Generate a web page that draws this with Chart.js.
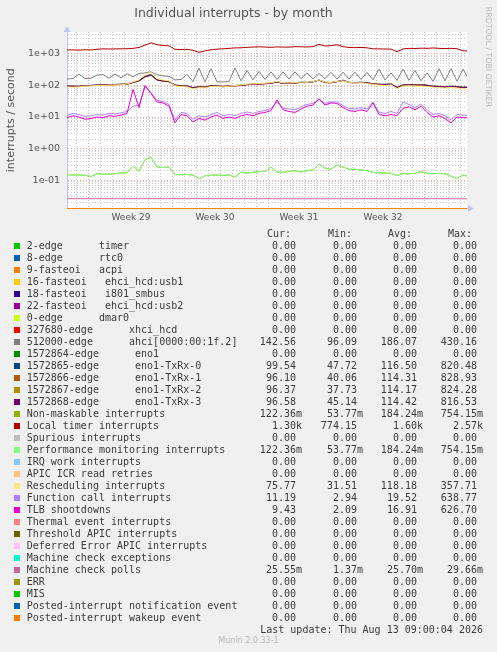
<!DOCTYPE html>
<html>
<head>
<meta charset="utf-8">
<script src="https://cdn.jsdelivr.net/npm/chart.js@4.4.1/dist/chart.umd.min.js"></script>
<style>
html, body { margin: 0; padding: 0; background: #f0f0f0; }
#wrap { position: relative; width: 497px; height: 652px; overflow: hidden; }
#chart { position: absolute; left: 0; top: 0; }
.lg { position: absolute; font-family: 'DejaVu Sans Mono', monospace; font-size: 10px; line-height: 12px; color: #3a3a3a; white-space: pre; }
.sw { position: absolute; width: 6px; height: 6px; }
#munin { position: absolute; left: 0; width: 497px; top: 636px; text-align: center; font-family: 'DejaVu Sans', sans-serif; font-size: 8px; line-height: 10px; color: #bbb; }
</style>
</head>
<body>
<div id="wrap">
  <canvas id="chart" width="497" height="230"></canvas>
  <div id="legend"></div>
  <div id="munin">Munin 2.0.33-1</div>
</div>
<script>
// legend rows, in munin order (later rows are drawn on top)
const seriesNames = [
    '2-edge      timer',
    '8-edge      rtc0',
    '9-fasteoi   acpi',
    '16-fasteoi   ehci_hcd:usb1',
    '18-fasteoi   i801_smbus',
    '22-fasteoi   ehci_hcd:usb2',
    '0-edge      dmar0',
    '327680-edge      xhci_hcd',
    '512000-edge      ahci[0000:00:1f.2]',
    '1572864-edge      eno1',
    '1572865-edge      eno1-TxRx-0',
    '1572866-edge      eno1-TxRx-1',
    '1572867-edge      eno1-TxRx-2',
    '1572868-edge      eno1-TxRx-3',
    'Non-maskable interrupts',
    'Local timer interrupts',
    'Spurious interrupts',
    'Performance monitoring interrupts',
    'IRQ work interrupts',
    'APIC ICR read retries',
    'Rescheduling interrupts',
    'Function call interrupts',
    'TLB shootdowns',
    'Thermal event interrupts',
    'Threshold APIC interrupts',
    'Deferred Error APIC interrupts',
    'Machine check exceptions',
    'Machine check polls',
    'ERR',
    'MIS',
    'Posted-interrupt notification event',
    'Posted-interrupt wakeup event'
];
const seriesColors = [
    '#00cc00', '#0066b3', '#ff8000', '#ffcc00', '#330099', '#990099', '#ccff00', '#ff0000',
    '#808080', '#008f00', '#00487d', '#b35a00', '#b38f00', '#6b006b', '#8fb300', '#b30000',
    '#bebebe', '#80ff80', '#80c9ff', '#ffc080', '#ffe680', '#aa80ff', '#ee00cc', '#ff8080',
    '#666600', '#ffbfff', '#00ffcc', '#cc6699', '#999900', '#00cc00', '#0066b3', '#ff8000'
];
const curValues = [0, 0, 0, 0, 0, 0, 0, 0, 142.56, 0, 99.54, 96.10, 96.37, 96.58, 0.12236, 1300,
    0, 0.12236, 0, 0, 75.77, 11.19, 9.43, 0, 0, 0, 0, 0.02555, 0, 0, 0, 0];
const minValues = [0, 0, 0, 0, 0, 0, 0, 0, 96.09, 0, 47.72, 40.06, 37.73, 45.14, 0.05377, 774.15,
    0, 0.05377, 0, 0, 31.51, 2.94, 2.09, 0, 0, 0, 0, 0.00137, 0, 0, 0, 0];
const avgValues = [0, 0, 0, 0, 0, 0, 0, 0, 186.07, 0, 116.50, 114.31, 114.17, 114.42, 0.18424, 1600,
    0, 0.18424, 0, 0, 118.18, 19.52, 16.91, 0, 0, 0, 0, 0.02570, 0, 0, 0, 0];
const maxValues = [0, 0, 0, 0, 0, 0, 0, 0, 430.16, 0, 820.48, 828.93, 824.28, 816.53, 0.75415, 2570,
    0, 0.75415, 0, 0, 357.71, 638.77, 626.70, 0, 0, 0, 0, 0.02966, 0, 0, 0, 0];

// time axis: days from the start of week 29, one sample every half day
const startDay = -1.83;
const stepDay = 0.5;
const weekTicks = [3.5, 10.5, 17.5, 24.5];
const weekLabels = ['Week 29', 'Week 30', 'Week 31', 'Week 32'];

const localTimer = [
    1340, 1340, 1320, 1350, 1340, 1400, 1450, 1430, 1440, 1450,
    1460, 1500, 1600, 1900, 2250, 1950, 1850, 1800, 1400, 1380,
    1400, 1300, 1120, 1250, 1350, 1420, 1450, 1500, 1550, 1560,
    1620, 1650, 1680, 1650, 1620, 1670, 1650, 1640, 1700, 1680,
    1660, 1700, 2000, 1780, 1830, 1950, 1700, 1600, 1580, 1600,
    1560, 1450, 1440, 1430, 1420, 1180, 1440, 1500, 1480, 1520,
    1500, 1540, 1500, 1480, 1500, 1460, 1250, 1250
];
const ahci = [
    160, 165, 230, 165, 170, 215, 220, 170, 230, 175,
    235, 190, 240, 250, 270, 220, 200, 195, 150, 155,
    225, 132, 350, 130, 340, 130, 130, 135, 360, 140,
    300, 150, 280, 155, 270, 155, 270, 160, 270, 165,
    250, 160, 240, 165, 260, 160, 265, 160, 265, 155,
    260, 150, 330, 150, 250, 145, 330, 145, 300, 140,
    250, 135, 340, 140, 340, 135, 330, 150
];
const txrx0 = [
    97, 95, 95, 100, 101, 104, 105, 107, 108, 110,
    112, 127, 143, 195, 220, 152, 140, 134, 104, 98,
    97, 86, 92, 90, 99, 97, 94, 98, 100, 102,
    108, 111, 113, 116, 119, 133, 118, 120, 122, 127,
    126, 132, 150, 126, 124, 134, 147, 126, 124, 127,
    122, 114, 110, 109, 112, 88, 104, 107, 105, 106,
    102, 96, 94, 92, 95, 93, 88, 90
];
const txrx1 = [
    94, 92, 92, 97, 99, 101, 103, 104, 105, 107,
    109, 123, 138, 186, 210, 148, 136, 130, 100, 95,
    94, 83, 89, 87, 96, 94, 91, 95, 97, 99,
    105, 108, 110, 113, 116, 128, 115, 117, 119, 124,
    123, 129, 146, 123, 121, 131, 143, 123, 121, 124,
    119, 111, 107, 106, 109, 85, 101, 104, 102, 103,
    99, 93, 91, 89, 92, 90, 85, 87
];
const txrx2 = [
    96, 95, 94, 99, 100, 103, 104, 106, 107, 109,
    111, 126, 141, 192, 218, 151, 139, 133, 103, 97,
    96, 85, 91, 89, 98, 96, 93, 97, 99, 101,
    107, 110, 112, 115, 118, 131, 117, 119, 121, 126,
    125, 131, 149, 125, 123, 133, 146, 125, 123, 126,
    121, 113, 109, 108, 111, 87, 103, 106, 104, 105,
    101, 95, 93, 91, 94, 92, 87, 89
];
const txrx3 = [
    95, 94, 93, 98, 100, 102, 104, 105, 106, 108,
    110, 125, 140, 190, 215, 150, 138, 132, 102, 96,
    95, 84, 90, 88, 97, 95, 92, 96, 98, 100,
    106, 109, 111, 114, 117, 130, 116, 118, 120, 125,
    124, 130, 148, 124, 122, 132, 145, 124, 122, 125,
    120, 112, 108, 107, 110, 86, 102, 105, 103, 104,
    100, 94, 92, 90, 93, 91, 86, 88
];
const rescheduling = [
    90, 88, 90, 95, 97, 100, 100, 103, 104, 105,
    112, 130, 150, 230, 260, 165, 150, 140, 98, 92,
    90, 78, 85, 84, 92, 93, 90, 95, 100, 104,
    110, 112, 115, 118, 122, 135, 120, 121, 124, 128,
    126, 132, 150, 128, 125, 135, 140, 126, 120, 122,
    115, 108, 103, 100, 104, 80, 95, 97, 96, 95,
    92, 88, 84, 82, 85, 82, 76, 78
];
const functionCall = [
    11.5, 13, 12, 10.5, 11, 12, 11.5, 13, 12.5, 13.5,
    15, 22, 24, 90, 60, 34, 31, 25, 8, 14,
    13, 8.5, 11, 10, 12, 14, 11, 12, 11, 13,
    14.5, 13, 15, 16, 19, 30, 19, 18, 17, 21,
    25, 27, 36, 27, 30, 30, 23, 19, 18, 20,
    18, 30, 14, 13, 15, 13, 30, 25, 20, 26,
    17, 12, 13, 11, 8, 12, 11.5, 11.2
];
const tlbShootdowns = [
    9.5, 11, 10, 8.5, 9, 10, 9.5, 11, 10.5, 11.5,
    13, 75, 20, 100, 55, 30, 28, 22, 6.5, 12,
    11, 7, 9, 8, 10, 11.5, 9, 10, 9, 11,
    12, 11, 13, 14, 16, 35, 17, 15, 14, 18,
    22, 24, 38, 24, 28, 27, 20, 16, 15, 17,
    15, 28, 12, 11, 12, 11, 19, 21, 17, 22,
    14, 10, 11, 9, 6.5, 10, 9.5, 9.4
];
// Non-maskable and Performance monitoring carry the same counts
const nmiPerf = [
    0.148, 0.145, 0.146, 0.143, 0.13, 0.16, 0.152, 0.155, 0.16, 0.168,
    0.172, 0.28, 0.19, 0.45, 0.54, 0.26, 0.25, 0.26, 0.15, 0.148,
    0.15, 0.145, 0.11, 0.138, 0.143, 0.145, 0.142, 0.146, 0.125, 0.18,
    0.165, 0.178, 0.185, 0.19, 0.26, 0.18, 0.175, 0.19, 0.2, 0.18,
    0.2, 0.21, 0.32, 0.24, 0.22, 0.3, 0.26, 0.22, 0.22, 0.21,
    0.2, 0.175, 0.17, 0.168, 0.165, 0.14, 0.16, 0.158, 0.165, 0.185,
    0.165, 0.16, 0.162, 0.158, 0.135, 0.11, 0.145, 0.13
];
const pollDays = [-1.83, 8, 18, 28, 31.5];
const machineCheckPolls = [0.0257, 0.0258, 0.0256, 0.0257, 0.0256];
const flatDays = [-1.83, 31.5];
const zeroSeries = [0, 0];

const plotted = {
    8: ahci, 10: txrx0, 11: txrx1, 12: txrx2, 13: txrx3, 14: nmiPerf, 15: localTimer,
    17: nmiPerf, 20: rescheduling, 21: functionCall, 22: tlbShootdowns
};

const yMin = 0.0126, yMax = 4950;
const xMin = -1.83, xMax = 31.5;
const minorGrid = 'rgba(140,140,140,0.45)';
const majorGrid = 'rgba(235,90,90,0.55)';
const axisColor = '#c4c4f4';

function toPoints(days, values) {
    // zero rows sit on the floor of the log axis, as rrdtool draws them
    return values.map((v, i) => ({x: days[i], y: v > 0 ? v : yMin}));
}

let datasets = seriesNames.map((name, i) => {
    let data;
    if (plotted[i]) {
        let days = plotted[i].map((v, j) => startDay + j * stepDay);
        data = toPoints(days, plotted[i]);
    } else if (i === 27) {
        data = toPoints(pollDays, machineCheckPolls);
    } else {
        data = toPoints(flatDays, zeroSeries);
    }
    return {
        label: name,
        data: data,
        borderColor: seriesColors[i],
        borderWidth: 1,
        pointRadius: 0,
        tension: 0,
        fill: false,
        clip: {left: 0, right: 0, top: 2, bottom: 2},
        order: -i
    };
});

function isDecade(v) {
    let l = Math.log10(v);
    return Math.abs(l - Math.round(l)) < 1e-9;
}

const frame = {
    id: 'frame',
    beforeDraw(chart) {
        let {ctx, chartArea: a} = chart;
        ctx.save();
        ctx.fillStyle = '#f0f0f0';
        ctx.fillRect(0, 0, chart.width, chart.height);
        ctx.fillStyle = '#ffffff';
        ctx.fillRect(a.left, a.top, a.right - a.left, a.bottom - a.top);
        ctx.restore();
    },
    afterDraw(chart) {
        let {ctx, chartArea: a} = chart;
        ctx.save();
        ctx.fillStyle = axisColor;
        ctx.beginPath();
        ctx.moveTo(a.left - 3.5, a.top);
        ctx.lineTo(a.left + 3.5, a.top);
        ctx.lineTo(a.left, a.top - 6);
        ctx.closePath();
        ctx.fill();
        ctx.beginPath();
        ctx.moveTo(a.right + 1, a.bottom - 3.5);
        ctx.lineTo(a.right + 1, a.bottom + 3.5);
        ctx.lineTo(a.right + 7, a.bottom);
        ctx.closePath();
        ctx.fill();
        ctx.translate(488, 57);
        ctx.rotate(Math.PI / 2);
        ctx.fillStyle = '#bbbbbb';
        ctx.font = '7.8px "DejaVu Sans"';
        ctx.textAlign = 'center';
        ctx.textBaseline = 'middle';
        ctx.fillText('RRDTOOL / TOBI OETIKER', 0, 0);
        ctx.restore();
    }
};

new Chart(document.getElementById('chart'), {
    type: 'line',
    data: {datasets: datasets},
    plugins: [frame],
    options: {
        responsive: false,
        animation: false,
        devicePixelRatio: 1,
        layout: {padding: {top: 0, right: 30, bottom: 0, left: 0}},
        plugins: {
            legend: {display: false},
            tooltip: {enabled: false},
            title: {
                display: true,
                text: 'Individual interrupts - by month',
                color: '#555',
                font: {family: 'DejaVu Sans', size: 12.5, weight: 'normal'},
                padding: {top: 6, bottom: 11}
            }
        },
        scales: {
            x: {
                type: 'linear',
                min: xMin,
                max: xMax,
                bounds: 'data',
                afterFit: axis => { axis.height = 21.5; },
                afterBuildTicks: axis => {
                    let t = [];
                    for (let d = -1.5; d <= xMax; d += 0.5) t.push({value: d});
                    axis.ticks = t;
                },
                grid: {
                    drawTicks: false,
                    lineWidth: 1,
                    color: ctx => {
                        let v = ctx.tick ? ctx.tick.value : 0.5;
                        if (v % 1 !== 0) return 'rgba(0,0,0,0)';
                        return ((v % 7) + 7) % 7 === 0 ? majorGrid : minorGrid;
                    }
                },
                border: {display: true, color: axisColor, width: 1, dash: [1, 2]},
                ticks: {
                    autoSkip: false,
                    maxRotation: 0,
                    padding: 4,
                    color: '#555',
                    font: {family: 'DejaVu Sans', size: 9},
                    callback: value => {
                        let k = weekTicks.findIndex(w => Math.abs(w - value) < 1e-6);
                        return k >= 0 ? weekLabels[k] : '';
                    }
                }
            },
            y: {
                type: 'logarithmic',
                min: yMin,
                max: yMax,
                bounds: 'data',
                afterFit: axis => { axis.width = 67; },
                afterBuildTicks: axis => {
                    let t = [];
                    for (let e = -2; e <= 3; e++) {
                        for (let m = 1; m <= 9; m++) {
                            let v = m * Math.pow(10, e);
                            if (v >= yMin && v <= yMax) t.push({value: v});
                        }
                    }
                    axis.ticks = t;
                },
                grid: {
                    drawTicks: false,
                    lineWidth: 1,
                    color: ctx => (ctx.tick && isDecade(ctx.tick.value)) ? majorGrid : minorGrid
                },
                border: {display: true, color: axisColor, width: 1, dash: [1, 2]},
                title: {
                    display: true,
                    text: 'interrupts / second',
                    color: '#555',
                    font: {family: 'DejaVu Sans', size: 11},
                    padding: {top: 4.4, bottom: 0}
                },
                ticks: {
                    autoSkip: false,
                    padding: 7,
                    color: '#555',
                    font: {family: 'DejaVu Sans', size: 9.5},
                    callback: value => {
                        if (!isDecade(value) || value < 0.09) return '';
                        let e = Math.round(Math.log10(value));
                        return '1e' + (e < 0 ? '-' : '+') + String(Math.abs(e)).padStart(2, '0');
                    }
                }
            }
        }
    }
});

// legend table under the graph
let legend = document.getElementById('legend');

function addText(text, top, left, rightEdge) {
    let s = document.createElement('span');
    s.className = 'lg';
    s.textContent = text;
    s.style.top = top + 'px';
    if (rightEdge !== undefined) s.style.right = (497 - rightEdge) + 'px';
    else s.style.left = left + 'px';
    legend.appendChild(s);
}

function fmt(v) {
    if (v === 0) return '0.00 ';
    if (v >= 1000) return (v / 1000).toFixed(2) + 'k';
    if (v < 1) return (v * 1000).toFixed(2) + 'm';
    return v.toFixed(2) + ' ';
}

const columnEdges = [302, 363, 423, 483];
const headers = ['Cur:', 'Min:', 'Avg:', 'Max:'];
headers.forEach((h, k) => addText(h, 228, columnEdges[k] - 35));

seriesNames.forEach((name, i) => {
    let cy = 245.7 + 12 * i;
    let sw = document.createElement('div');
    sw.className = 'sw';
    sw.style.left = '14px';
    sw.style.top = (cy - 3) + 'px';
    sw.style.background = seriesColors[i];
    legend.appendChild(sw);
    addText(name, cy - 6, 26.7);
    [curValues, minValues, avgValues, maxValues].forEach((col, k) => {
        addText(fmt(col[i]), cy - 6, 0, columnEdges[k]);
    });
});
addText('Last update: Thu Aug 13 09:00:04 2026', 623.5, 0, 483);
</script>
</body>
</html>
